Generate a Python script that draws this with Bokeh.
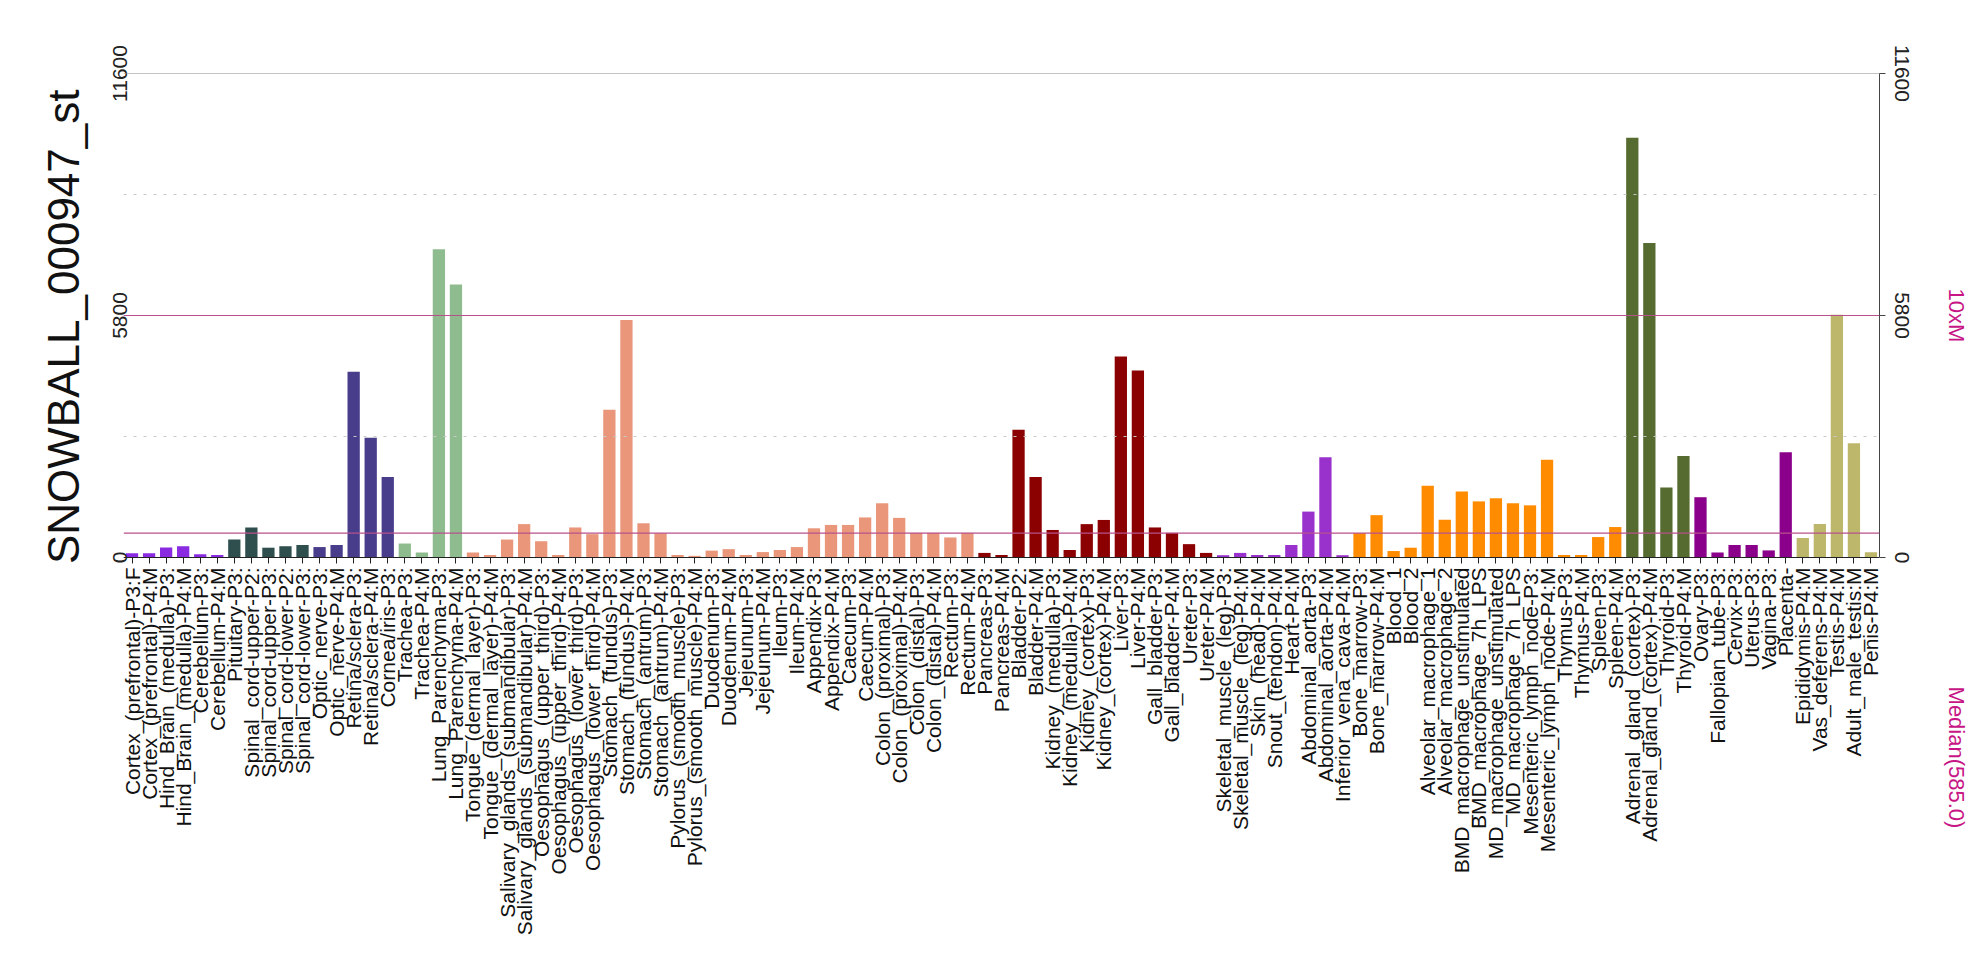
import math
from bokeh.plotting import figure
from bokeh.models import (FactorRange, Range1d, LinearAxis, FixedTicker, Span,
                          ColumnDataSource, Title)
from bokeh.embed import file_html
from bokeh.resources import INLINE

tissues = [
    "Cortex_(prefrontal)-P3:F", "Cortex_(prefrontal)-P4:M",
    "Hind_Brain_(medulla)-P3:", "Hind_Brain_(medulla)-P4:M",
    "Cerebellum-P3:", "Cerebellum-P4:M",
    "Pituitary-P3:", "Spinal_cord-upper-P2:", "Spinal_cord-upper-P3:",
    "Spinal_cord-lower-P2:", "Spinal_cord-lower-P3:",
    "Optic_nerve-P3:", "Optic_nerve-P4:M", "Retina/sclera-P3:",
    "Retina/sclera-P4:M", "Cornea/iris-P3:",
    "Trachea-P3:", "Trachea-P4:M", "Lung_Parenchyma-P3:", "Lung_Parenchyma-P4:M",
    "Tongue_(dermal_layer)-P3:", "Tongue_(dermal_layer)-P4:M",
    "Salivary_glands_(submandibular)-P3:", "Salivary_glands_(submandibular)-P4:M",
    "Oesophagus_(upper_third)-P3:", "Oesophagus_(upper_third)-P4:M",
    "Oesophagus_(lower_third)-P3:", "Oesophagus_(lower_third)-P4:M",
    "Stomach_(fundus)-P3:", "Stomach_(fundus)-P4:M",
    "Stomach_(antrum)-P3:", "Stomach_(antrum)-P4:M",
    "Pylorus_(smooth_muscle)-P3:", "Pylorus_(smooth_muscle)-P4:M",
    "Duodenum-P3:", "Duodenum-P4:M", "Jejeunum-P3:", "Jejeunum-P4:M",
    "Ileum-P3:", "Ileum-P4:M", "Appendix-P3:", "Appendix-P4:M",
    "Caecum-P3:", "Caecum-P4:M", "Colon_(proximal)-P3:", "Colon_(proximal)-P4:M",
    "Colon_(distal)-P3:", "Colon_(distal)-P4:M", "Rectum-P3:", "Rectum-P4:M",
    "Pancreas-P3:", "Pancreas-P4:M", "Bladder-P2:", "Bladder-P4:M",
    "Kidney_(medulla)-P3:", "Kidney_(medulla)-P4:M",
    "Kidney_(cortex)-P3:", "Kidney_(cortex)-P4:M",
    "Liver-P3:", "Liver-P4:M", "Gall_bladder-P3:", "Gall_bladder-P4:M",
    "Ureter-P3:", "Ureter-P4:M",
    "Skeletal_muscle_(leg)-P3:", "Skeletal_muscle_(leg)-P4:M",
    "Skin_(head)-P4:M", "Snout_(tendon)-P4:M", "Heart-P4:M",
    "Abdominal_aorta-P3:", "Abdominal_aorta-P4:M", "Inferior_vena_cava-P4:M",
    "Bone_marrow-P3:", "Bone_marrow-P4:M", "Blood_1", "Blood_2",
    "Alveolar_macrophage_1", "Alveolar_macrophage_2",
    "BMD_macrophage_unstimulated", "BMD_macrophage_7h_LPS",
    "MD_macrophage_unstimulated", "MD_macrophage_7h_LPS",
    "Mesenteric_lymph_node-P3:", "Mesenteric_lymph_node-P4:M",
    "Thymus-P3:", "Thymus-P4:M", "Spleen-P3:", "Spleen-P4:M",
    "Adrenal_gland_(cortex)-P3:", "Adrenal_gland_(cortex)-P4:M",
    "Thyroid-P3:", "Thyroid-P4:M",
    "Ovary-P3:", "Fallopian_tube-P3:", "Cervix-P3:", "Uterus-P3:", "Vagina-P3:",
    "Placenta-",
    "Epididymis-P4:M", "Vas_deferens-P4:M", "Testis-P4:M", "Adult_male_testis:M",
    "Penis-P4:M",
]

values = [
    100, 100, 240, 270, 80, 60,
    430, 720, 235, 270, 300,
    250, 300, 4450, 2870, 1930,
    335, 120, 7390, 6540,
    120, 60, 430, 800, 390, 60, 720, 560, 3540, 5690,
    820, 580, 60, 40, 165, 200, 60, 130, 180, 250,
    700, 780, 780, 960, 1300, 950, 590, 590, 480, 590,
    110, 60, 3060, 1930, 660, 180, 800, 900, 4820, 4480, 720, 590, 320, 110,
    55, 110, 60, 60, 300, 1100, 2400, 55,
    585, 1015, 155, 235, 1720, 905, 1580, 1345, 1420, 1300, 1250, 2345,
    60, 60, 490, 730,
    10060, 7540, 1680, 2430,
    1445, 120, 300, 300, 170, 2520,
    470, 800, 5820, 2740, 125,
]

group_sizes = [6, 5, 5, 4, 30, 14, 8, 16, 4, 6, 5]
group_colors = ["#8A2BE2", "#2F4F4F", "#483D8B", "#8FBC8F", "#E9967A",
                "#8B0000", "#9932CC", "#FF8C00", "#556B2F", "#8B008B", "#BDB76B"]

y_ticks = [0, 5800, 11600]
dotted_levels = [2900, 8700]
median_value = 585.0
ten_x_median = 5800
median_text = "Median(585.0)"
ten_x_text = "10xM"
title = "SNOWBALL_000947_st"

colors = []
for n, c in zip(group_sizes, group_colors):
    colors += [c] * n

src = ColumnDataSource(dict(x=tissues, top=values, color=colors))

FONT = "Liberation Sans"
MAGENTA = "#C71585"

# layout (pixels)
W, H = 1971, 962
TOP, BOTTOM = 73, 0
AXIS_PX = 484                   # pixels between 0 and the top tick
Y_TOP = y_ticks[-1]
units_per_px = Y_TOP / AXIS_PX
frame_h = H - TOP - BOTTOM
y_start = Y_TOP - frame_h * units_per_px
median_text_y = -200 * units_per_px   # text sits 200px below the baseline

p = figure(x_range=FactorRange(factors=tissues, range_padding=0),
           y_range=Range1d(y_start, Y_TOP),
           width=W, height=H, output_backend="svg", toolbar_location=None,
           min_border_left=123, min_border_right=92, min_border_top=TOP,
           min_border_bottom=BOTTOM)
p.outline_line_color = None
p.background_fill_color = "white"
p.border_fill_color = "white"
p.xgrid.visible = False
p.ygrid.visible = False

for lv in dotted_levels:
    p.add_layout(Span(location=lv, dimension="width", line_color="#c8c8c8",
                      line_width=1, line_dash="3 7"))
p.add_layout(Span(location=Y_TOP, dimension="width", line_color="#8a8a8a",
                  line_width=1))
p.add_layout(Span(location=ten_x_median, dimension="width", line_color="#B8508C",
                  line_width=1.2))
p.add_layout(Span(location=median_value, dimension="width", line_color="#B8508C",
                  line_width=1.2))

p.vbar(x="x", top="top", bottom=0, width=0.72, color="color", source=src,
       line_color=None)

# x axis drawn at y = 0
xa = p.xaxis[0]
xa.fixed_location = 0
xa.major_label_orientation = math.pi / 2
xa.major_label_text_font = FONT
xa.major_label_text_font_size = "21px"
xa.major_label_text_color = "#111111"
xa.major_label_standoff = 4
xa.major_tick_out = 6
xa.major_tick_in = 0
xa.axis_line_color = "#222222"
xa.major_tick_line_color = "#222222"

# left axis
ya = p.yaxis[0]
ya.ticker = FixedTicker(ticks=y_ticks)
ya.bounds = (0, Y_TOP)
ya.axis_line_color = None
ya.major_tick_line_color = None
ya.minor_tick_line_color = None
ya.major_tick_out = 0
ya.major_tick_in = 0
ya.major_label_orientation = "vertical"
ya.major_label_text_font = FONT
ya.major_label_text_font_size = "21px"
ya.major_label_text_color = "#222222"
ya.major_label_standoff = -3

# rotated title on the left, ending near the top of the axis
p.add_layout(Title(text=title, align="right", offset=16, vertical_align="middle",
                   standoff=41, text_font=FONT, text_font_size="44px",
                   text_font_style="normal", text_color="#111111"), "left")

# right axis
ra = LinearAxis(ticker=FixedTicker(ticks=y_ticks), bounds=(0, Y_TOP))
ra.axis_line_color = "#444444"
ra.major_tick_line_color = "#444444"
ra.minor_tick_line_color = None
ra.major_tick_out = 6
ra.major_tick_in = 0
ra.major_label_orientation = "vertical"
ra.major_label_text_font = FONT
ra.major_label_text_font_size = "21px"
ra.major_label_text_color = "#222222"
ra.major_label_standoff = 9
p.add_layout(ra, "right")

# magenta notes to the right: 10xM and Median(585.0)
ma = LinearAxis(ticker=FixedTicker(ticks=[median_text_y, ten_x_median]),
                major_label_overrides={median_text_y: median_text,
                                       ten_x_median: ten_x_text})
ma.axis_line_color = None
ma.major_tick_line_color = None
ma.minor_tick_line_color = None
ma.major_tick_out = 0
ma.major_tick_in = 0
ma.major_label_orientation = "vertical"
ma.major_label_text_font = FONT
ma.major_label_text_font_size = "22px"
ma.major_label_text_color = MAGENTA
ma.major_label_standoff = 32
p.add_layout(ma, "right")

open("out.html", "w").write(file_html(p, INLINE))
